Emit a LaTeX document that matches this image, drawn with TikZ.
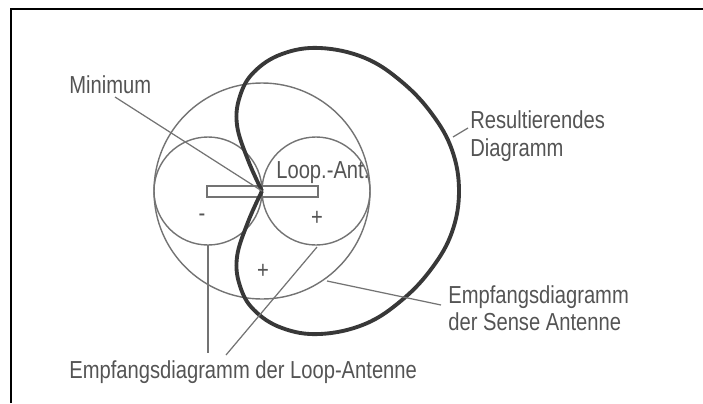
\documentclass[tikz,border=0pt]{standalone}
\usepackage{fontspec}
\setmainfont{Liberation Sans}[FakeStretch=0.82]
\usepackage{xcolor}
\usepackage{tikz}
\usetikzlibrary{calc}

\definecolor{inkgray}{gray}{0.33}
\definecolor{wiregray}{gray}{0.45}
\definecolor{curvegray}{gray}{0.22}
\newcommand{\lblfont}{\fontsize{14}{16}\selectfont}

\tikzset{
  lbl/.style={anchor=base west, inner sep=0pt, text=inkgray, font=\lblfont},
  sign/.style={inner sep=0pt, text=inkgray, font=\lblfont},
  thinline/.style={draw=wiregray, line width=0.8pt},
  leader/.style={draw=wiregray, line width=0.7pt}
}

\begin{document}
\begin{tikzpicture}[x=0.02cm, y=-0.02cm]
  \useasboundingbox (0,0) rectangle (703,403);
  % Corner frame
  \draw[line width=1.3pt] (11,403) -- (11,9) -- (703,9);
  % Sense antenna (circle)
  \coordinate (cusp) at (262,191);
  \draw[thinline] (cusp) circle[radius=108];
  % Loop antenna lobes
  \draw[thinline] (208,191) circle[radius=54];
  \draw[thinline] (316,191) circle[radius=54];
  % Loop antenna
  \draw[thinline] (207,186) rectangle (318,197);
  % Resulting pattern
  \draw[curvegray, line width=2.2pt, line join=round]
    plot[smooth, tension=0.65] coordinates {
      (262,191) (248,160) (237,125) (240,96) (254,72) (282,54) (320,48)
      (365,58) (402,82) (432,114) (452,150) (459,191) (452,232) (432,268)
      (402,300) (365,324) (320,334) (282,328) (254,310) (240,286) (237,257)
      (248,222) (262,191)};
  % Labels
  \node[lbl] (min) at (69,93) {Minimum};
  \node[lbl] (loopant) at (276,178) {Loop.-Ant.};
  \node[sign] (minus) at (202,218) {-};
  \node[sign] (plusR) at (317,218) {+};
  \node[sign] (plusC) at (263,271) {+};
  \node[lbl] (res) at (470,128) {Resultierendes};
  \node[lbl] (resdia) at (470,156) {Diagramm};
  \node[lbl] (sense) at (448,303) {Empfangsdiagramm};
  \node[lbl] (sensedef) at (448,330) {der Sense Antenne};
  \node[lbl] (loop) at (69,378) {Empfangsdiagramm der Loop-Antenne};
  % Leaders
  \coordinate (minfoot) at (115,97);
  \coordinate (resA) at (453,137);
  \coordinate (resB) at (468,128);
  \coordinate (senseA) at (327,281);
  \coordinate (senseB) at (441,305);
  \coordinate (lobeL) at (208,245);
  \coordinate (lobeR) at (317,247);
  \coordinate (footL) at (208,353);
  \coordinate (footR) at (226,355);
  \draw[leader] (minfoot) -- (cusp);
  \draw[leader] (resA) -- (resB);
  \draw[leader] (senseA) -- (senseB);
  \draw[leader] (lobeL) -- (footL);
  \draw[leader] (lobeR) -- (footR);
\end{tikzpicture}
\end{document}
